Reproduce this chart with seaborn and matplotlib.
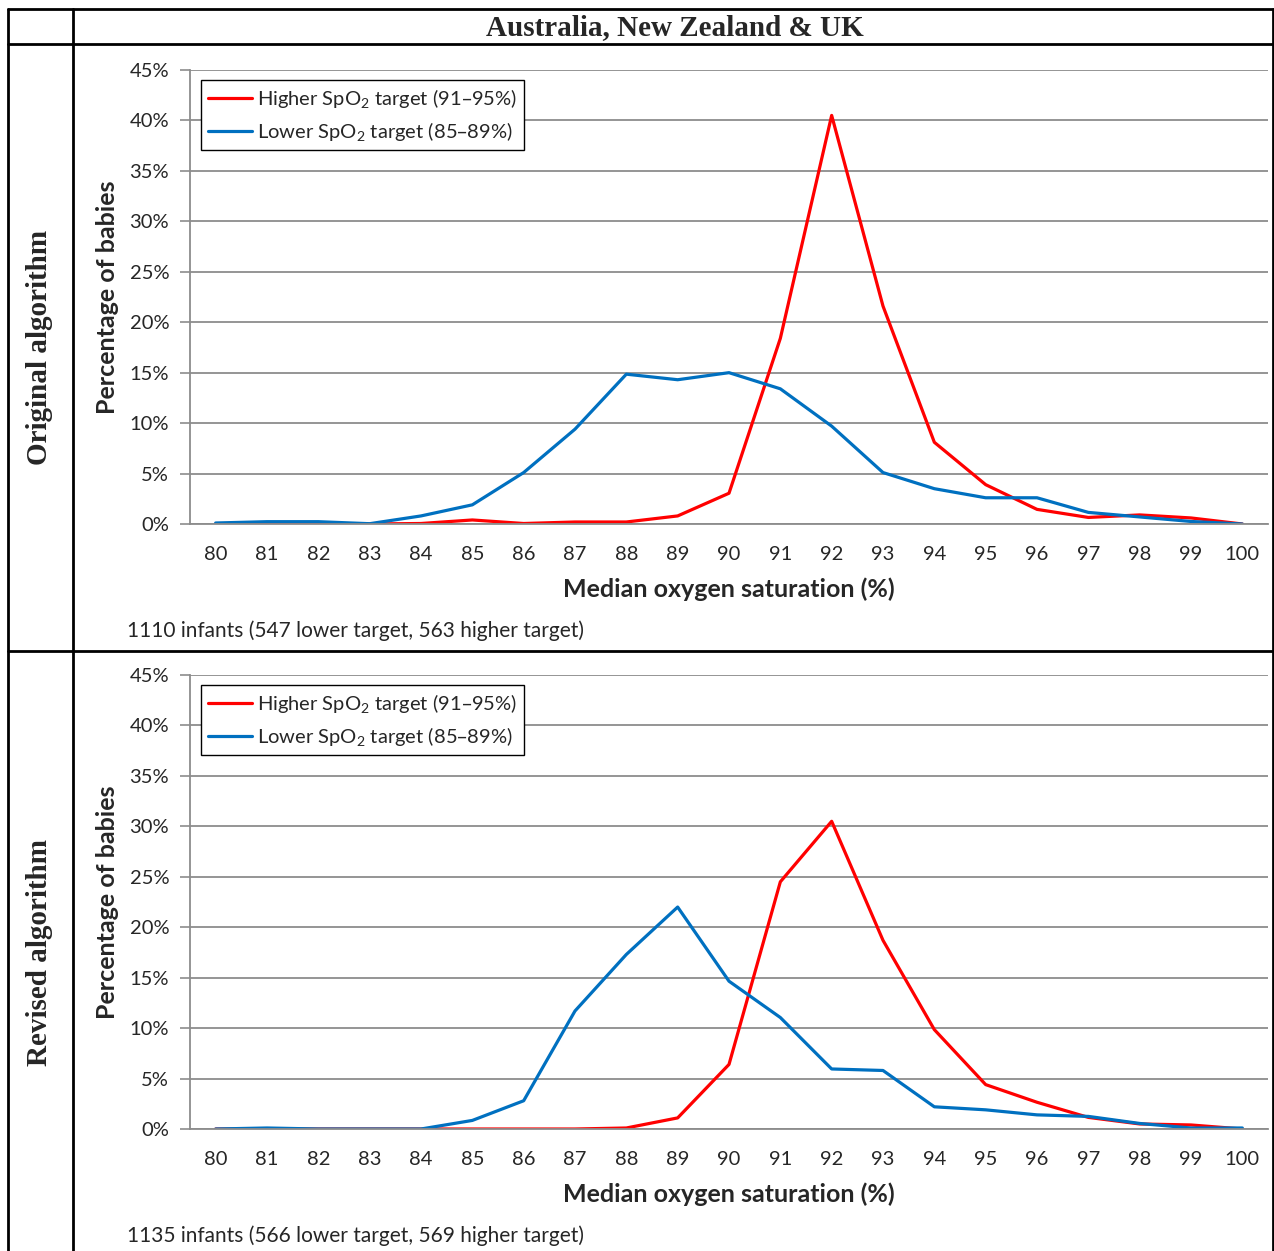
import numpy as np
import pandas as pd
import matplotlib
matplotlib.use('Agg')
import matplotlib.pyplot as plt
from matplotlib.lines import Line2D
from matplotlib.ticker import FixedLocator, FuncFormatter
import seaborn as sns

# median SpO2 categories
saturation = list(range(80, 101))

# Original algorithm (% of babies)
orig_higher = [0.0, 0.0, 0.0, 0.0, 0.05, 0.4, 0.05, 0.2, 0.2, 0.8, 3.05,
               18.4, 40.5, 21.6, 8.1, 3.9, 1.45, 0.65, 0.9, 0.6, 0.0]
orig_lower = [0.1, 0.23, 0.23, 0.03, 0.8, 1.9, 5.1, 9.4, 14.85, 14.3, 15.0,
              13.4, 9.7, 5.1, 3.5, 2.6, 2.6, 1.15, 0.7, 0.25, 0.0]

# Revised algorithm (% of babies)
rev_higher = [0.0, 0.0, 0.0, 0.0, 0.0, 0.0, 0.0, 0.0, 0.1, 1.1, 6.4,
              24.5, 30.5, 18.7, 9.85, 4.4, 2.65, 1.15, 0.5, 0.4, 0.0]
rev_lower = [0.0, 0.1, 0.0, 0.0, 0.0, 0.85, 2.8, 11.7, 17.3, 22.0, 14.65,
             11.05, 5.95, 5.8, 2.2, 1.9, 1.4, 1.25, 0.55, 0.1, 0.1]

series_names = ['Higher SpO$_2$ target (91\u201395%)', 'Lower SpO$_2$ target (85\u201389%)']
row_titles = ['Original algorithm', 'Revised algorithm']
footnotes = ['1110 infants (547 lower target, 563 higher target)',
             '1135 infants (566 lower target, 569 higher target)']
header = 'Australia, New Zealand & UK'

sns.set_style('white')
plt.rcParams['font.family'] = ['Lato', 'DejaVu Sans']
plt.rcParams['mathtext.default'] = 'regular'

W, H = 1274, 1251
fig = plt.figure(figsize=(W / 100, H / 100), dpi=100)

def fx(px):
    return px / W

def fy(py):
    return 1 - py / H

# table grid
lw_tab = 2.0
for xs, ys in [((8, 1273), (9, 9)), ((8, 1273), (44, 44)), ((8, 1273), (651, 651)),
               ((8, 8), (9, 1251)), ((73, 73), (9, 1251)), ((1273, 1273), (9, 1251))]:
    fig.add_artist(Line2D([fx(xs[0]), fx(xs[1])], [fy(ys[0]), fy(ys[1])],
                          transform=fig.transFigure, color='black', lw=lw_tab))

fig.text(fx(675), fy(28), header, ha='center', va='center', fontsize=21,
         fontweight='bold', family='Liberation Serif')

palette = {series_names[0]: '#FF0000', series_names[1]: '#0070C0'}
panels = [(orig_higher, orig_lower, 70, 524, 347, 631),
          (rev_higher, rev_lower, 675, 1129, 953, 1236)]

for i, (hi, lo, top, bot, mid, foot_y) in enumerate(panels):
    df = pd.DataFrame({
        'sat': saturation * 2,
        'pct': hi + lo,
        'series': [series_names[0]] * len(hi) + [series_names[1]] * len(lo),
    })
    ax = fig.add_axes([fx(190), fy(bot), fx(1268) - fx(190), (bot - top) / H])
    sns.lineplot(data=df, x='sat', y='pct', hue='series', palette=palette,
                 linewidth=2.3, ax=ax, legend=True)
    ax.set_xlim(79.5, 100.5)
    ax.set_ylim(0, 45)
    ax.set_yticks(np.arange(0, 46, 5))
    ax.yaxis.set_major_formatter(FuncFormatter(lambda v, p: f'{v:.0f}%'))
    ax.set_xticks(saturation)
    ax.xaxis.set_minor_locator(FixedLocator(np.arange(79.5, 101, 1)))
    ax.tick_params(axis='x', which='major', length=0, labelsize=14.5, pad=16)
    ax.tick_params(axis='x', which='minor', length=7, width=1.2, color='#8c8c8c', direction='out')
    ax.tick_params(axis='y', which='major', length=7, width=1.2, color='#8c8c8c',
                   labelsize=14.5, pad=8, left=True)
    ax.grid(axis='y', color='#8c8c8c', lw=1.3)
    ax.set_axisbelow(True)
    for s in ['top', 'right']:
        ax.spines[s].set_visible(False)
    for s in ['left', 'bottom']:
        ax.spines[s].set_color('#8c8c8c')
        ax.spines[s].set_linewidth(1.3)
    ax.set_xlabel('Median oxygen saturation (%)', fontsize=18, fontweight='bold', labelpad=10)
    ax.set_ylabel('Percentage of babies', fontsize=18, fontweight='bold')
    ax.yaxis.set_label_coords(-0.066, 0.5)
    leg = ax.legend(loc='upper left', bbox_to_anchor=(0.010, 0.978), fontsize=14.5,
                    frameon=True, fancybox=False, edgecolor='black', framealpha=1,
                    handlelength=2.2, handletextpad=0.25, borderpad=0.35,
                    labelspacing=0.5, borderaxespad=0)
    leg.get_frame().set_linewidth(1.0)
    for l in leg.get_lines():
        l.set_linewidth(2.3)

    fig.text(fx(40), fy(mid), row_titles[i], rotation=90, ha='center', va='center',
             fontsize=21, fontweight='bold', family='Liberation Serif')
    fig.text(fx(127), fy(foot_y), footnotes[i], ha='left', va='center', fontsize=15)

fig.savefig('out.png', dpi=100)
